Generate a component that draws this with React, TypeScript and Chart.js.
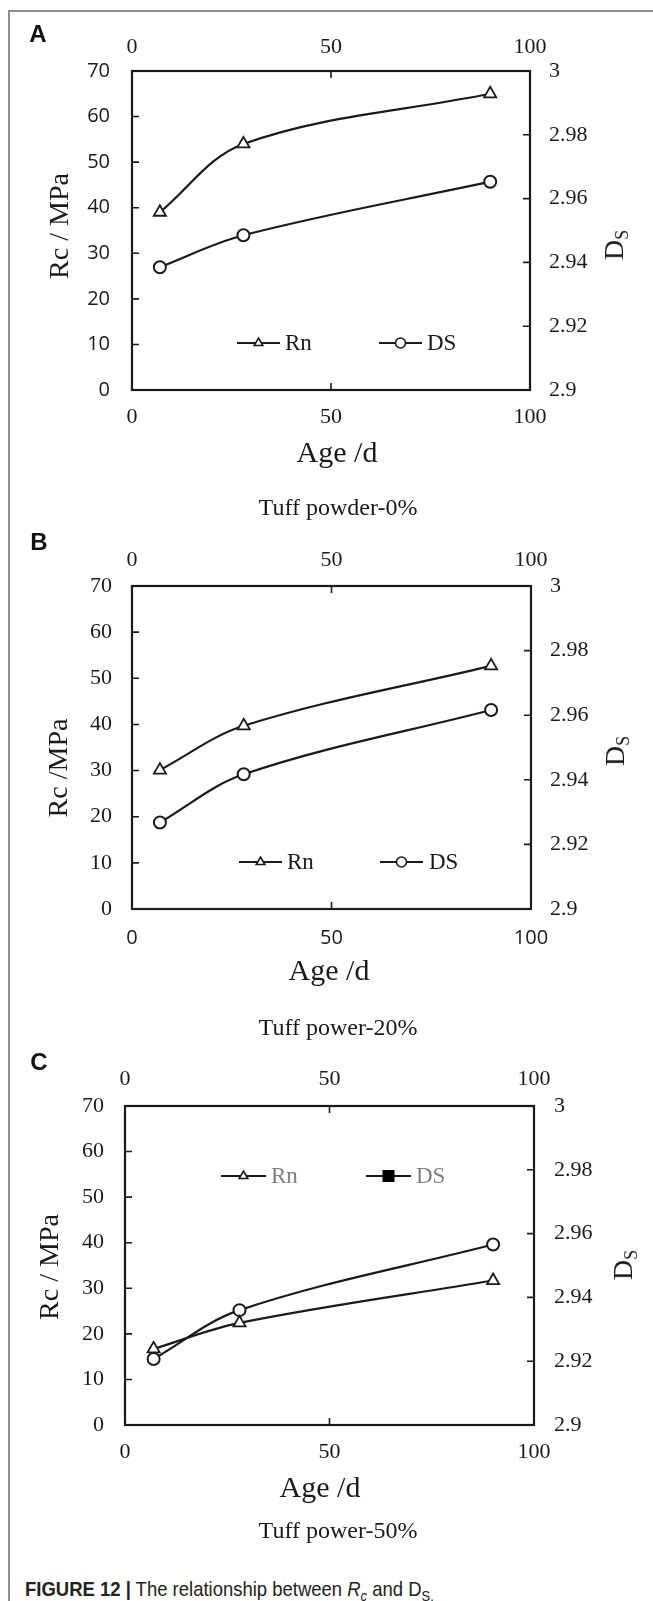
import React, { useEffect, useRef } from "react";
import { Chart, registerables } from "chart.js";

Chart.register(...registerables);

// ---------- data ----------
const ageDays = [7, 28, 90];
const rnA = [39, 54, 65];
const dsA = [2.9385, 2.9485, 2.9653];
const rnB = [30.1, 39.7, 52.7];
const dsB = [2.9268, 2.9417, 2.9616];
const rnC = [16.7, 22.4, 31.7];
const dsC = [2.9207, 2.936, 2.9566];

const ageTicks = [0, 50, 100];
const rcTicks = [0, 10, 20, 30, 40, 50, 60, 70];
const dsTicks = [2.9, 2.92, 2.94, 2.96, 2.98, 3.0];
const dsTickLabels = ["2.9", "2.92", "2.94", "2.96", "2.98", "3"];

const SERIF = "'Liberation Serif', 'Times New Roman', serif";
const SANS = "'Open Sans', 'Liberation Sans', sans-serif";
const INK = "#1a1a1a";

type LegendItem = { x0: number; x1: number; tx: number; marker: string; label: string };

const PANELS = [
  {
    key: "A", T: 71, B: 390, L: 132, R: 530, rn: rnA, ds: dsA,
    leftFont: { family: SANS, size: 20 }, rightFont: { family: SERIF, size: 22 },
    topFont: { family: SERIF, size: 22 }, bottomFont: { family: SERIF, size: 22 },
    padL: 22, padR: 19, padT: 11, padB: 14,
    legendY: 343, legendColor: INK,
    legend: [
      { x0: 237, x1: 280, tx: 285, marker: "triangle", label: "Rn" },
      { x0: 379, x1: 422, tx: 427, marker: "circle", label: "DS" },
    ] as LegendItem[],
    letter: [38, 34], yTitle: ["Rc / MPa", 59, 226], dsTitle: [614, 245],
    xTitle: [337, 452], sub: ["Tuff powder-0%", 338, 507],
  },
  {
    key: "B", T: 586, B: 909, L: 132, R: 531, rn: rnB, ds: dsB,
    leftFont: { family: SERIF, size: 22 }, rightFont: { family: SERIF, size: 22 },
    topFont: { family: SERIF, size: 22 }, bottomFont: { family: SANS, size: 20 },
    padL: 20, padR: 19, padT: 12.5, padB: 17.5,
    legendY: 862, legendColor: INK,
    legend: [
      { x0: 239, x1: 282, tx: 287, marker: "triangle", label: "Rn" },
      { x0: 380, x1: 423, tx: 429, marker: "circle", label: "DS" },
    ] as LegendItem[],
    letter: [39, 542], yTitle: ["Rc /MPa", 58, 768], dsTitle: [615, 751],
    xTitle: [329, 970], sub: ["Tuff power-20%", 338, 1027],
  },
  {
    key: "C", T: 1106, B: 1425, L: 125, R: 534, rn: rnC, ds: dsC,
    leftFont: { family: SERIF, size: 22 }, rightFont: { family: SERIF, size: 22 },
    topFont: { family: SERIF, size: 22 }, bottomFont: { family: SERIF, size: 22 },
    padL: 21, padR: 20, padT: 13.5, padB: 14.3,
    legendY: 1176, legendColor: "#7f7f7f",
    legend: [
      { x0: 221, x1: 266, tx: 271, marker: "triangle", label: "Rn" },
      { x0: 366, x1: 411, tx: 416, marker: "square", label: "DS" },
    ] as LegendItem[],
    letter: [39, 1062], yTitle: ["Rc / MPa", 49, 1267], dsTitle: [623, 1265],
    xTitle: [320, 1487], sub: ["Tuff power-50%", 338, 1530],
  },
];

const TOP_H = 60;
const BOT_H = 60;
const W = 653;

function drawMarker(ctx: CanvasRenderingContext2D, kind: string, x: number, y: number, r: number) {
  ctx.beginPath();
  if (kind === "triangle") {
    const s = Math.sin(Math.PI / 3);
    ctx.moveTo(x, y - r);
    ctx.lineTo(x + r * s, y + r * 0.5);
    ctx.lineTo(x - r * s, y + r * 0.5);
    ctx.closePath();
    ctx.fillStyle = "#fff";
    ctx.fill();
    ctx.stroke();
  } else if (kind === "circle") {
    ctx.arc(x, y, r, 0, Math.PI * 2);
    ctx.fillStyle = "#fff";
    ctx.fill();
    ctx.stroke();
  } else {
    ctx.rect(x - r, y - r, 2 * r, 2 * r);
    ctx.fillStyle = "#000";
    ctx.fill();
  }
}

function Panel({ p }: { p: (typeof PANELS)[number] }) {
  const ref = useRef<HTMLCanvasElement | null>(null);
  const canvasTop = p.T - TOP_H;
  const H = TOP_H + (p.B - p.T) + BOT_H;

  useEffect(() => {
    if (!ref.current) return;
    const framePlugin = {
      id: "frameTicks" + p.key,
      afterDraw(chart: any) {
        const ctx = chart.ctx as CanvasRenderingContext2D;
        const ca = chart.chartArea;
        const tl = 7;
        ctx.save();
        ctx.strokeStyle = INK;
        ctx.lineWidth = 1.6;
        ctx.beginPath();
        const sy = chart.scales.y, sy2 = chart.scales.y2, sx = chart.scales.x, sx2 = chart.scales.x2;
        sy.ticks.forEach((_: any, i: number) => {
          const py = sy.getPixelForTick(i);
          ctx.moveTo(ca.left, py); ctx.lineTo(ca.left + tl, py);
        });
        sy2.ticks.forEach((_: any, i: number) => {
          const py = sy2.getPixelForTick(i);
          ctx.moveTo(ca.right, py); ctx.lineTo(ca.right - tl, py);
        });
        sx.ticks.forEach((_: any, i: number) => {
          const px = sx.getPixelForTick(i);
          ctx.moveTo(px, ca.bottom); ctx.lineTo(px, ca.bottom - tl);
        });
        sx2.ticks.forEach((_: any, i: number) => {
          const px = sx2.getPixelForTick(i);
          ctx.moveTo(px, ca.top); ctx.lineTo(px, ca.top + tl);
        });
        ctx.stroke();
        ctx.lineWidth = 2.2;
        ctx.strokeRect(ca.left, ca.top, ca.right - ca.left, ca.bottom - ca.top);

        // legend
        const ly = p.legendY - canvasTop;
        p.legend.forEach((it) => {
          ctx.strokeStyle = INK;
          ctx.lineWidth = 2;
          ctx.beginPath();
          ctx.moveTo(it.x0, ly); ctx.lineTo(it.x1, ly);
          ctx.stroke();
          ctx.lineWidth = 1.6;
          drawMarker(ctx, it.marker, (it.x0 + it.x1) / 2, ly, it.marker === "square" ? 6 : 5);
          ctx.fillStyle = p.legendColor;
          ctx.font = `23px ${SERIF}`;
          ctx.textBaseline = "middle";
          ctx.textAlign = "left";
          ctx.fillText(it.label, it.tx, ly + 1);
        });
        ctx.restore();
      },
    };

    const fixW = (w: number) => (s: any) => { s.width = w; };
    const fixH = (h: number) => (s: any) => { s.height = h; };
    const setTicks = (vals: number[]) => (s: any) => { s.ticks = vals.map((v) => ({ value: v })); };
    const noGrid = { display: false, drawTicks: false };

    const chart = new Chart(ref.current, {
      type: "line",
      data: {
        datasets: [
          {
            label: "Rn",
            data: ageDays.map((x, i) => ({ x, y: p.rn[i] })),
            xAxisID: "x", yAxisID: "y",
            borderColor: INK, borderWidth: 2.2,
            pointStyle: "triangle", pointRadius: 7,
            pointBackgroundColor: "#fff", pointBorderColor: INK, pointBorderWidth: 1.8,
            tension: 0.35, fill: false,
          },
          {
            label: "DS",
            data: ageDays.map((x, i) => ({ x, y: p.ds[i] })),
            xAxisID: "x", yAxisID: "y2",
            borderColor: INK, borderWidth: 2.2,
            pointStyle: "circle", pointRadius: 6,
            pointBackgroundColor: "#fff", pointBorderColor: INK, pointBorderWidth: 2,
            tension: 0.35, fill: false,
          },
        ],
      },
      options: {
        responsive: false,
        animation: false,
        devicePixelRatio: 1,
        layout: { padding: 0 },
        plugins: { legend: { display: false }, tooltip: { enabled: false } },
        scales: {
          x: {
            type: "linear", position: "bottom", min: 0, max: 100,
            afterBuildTicks: setTicks(ageTicks), afterFit: fixH(BOT_H),
            grid: noGrid, border: { display: false },
            ticks: { font: p.bottomFont, color: INK, padding: p.padB, maxRotation: 0 },
          },
          x2: {
            type: "linear", position: "top", min: 0, max: 100,
            afterBuildTicks: setTicks(ageTicks), afterFit: fixH(TOP_H),
            grid: noGrid, border: { display: false },
            ticks: { font: p.topFont, color: INK, padding: p.padT, maxRotation: 0 },
          },
          y: {
            type: "linear", position: "left", min: 0, max: 70,
            afterBuildTicks: setTicks(rcTicks), afterFit: fixW(p.L),
            grid: noGrid, border: { display: false },
            ticks: { font: p.leftFont, color: INK, padding: p.padL },
          },
          y2: {
            type: "linear", position: "right", min: 2.9, max: 3.0,
            afterBuildTicks: setTicks(dsTicks), afterFit: fixW(W - p.R),
            grid: noGrid, border: { display: false },
            ticks: {
              font: p.rightFont, color: INK, padding: p.padR,
              callback: (_v: any, i: number) => dsTickLabels[i],
            },
          },
        },
      } as any,
      plugins: [framePlugin],
    });
    return () => chart.destroy();
  }, []);

  const txt = (x: number, y: number, size: number, rot = false): React.CSSProperties => ({
    position: "absolute", left: x, top: y,
    transform: `translate(-50%, -50%)${rot ? " rotate(-90deg)" : ""}`,
    fontFamily: SERIF, fontSize: size, lineHeight: 1, whiteSpace: "nowrap", color: INK,
  });

  return (
    <>
      <canvas
        ref={ref}
        width={W}
        height={H}
        style={{ position: "absolute", left: 0, top: canvasTop, width: W, height: H, display: "block" }}
      />
      <div style={{ ...txt(p.letter[0] as number, p.letter[1] as number, 24), fontFamily: "'Liberation Sans', Arial, sans-serif", fontWeight: 700, color: "#111" }}>
        {p.key}
      </div>
      <div style={txt(p.yTitle[1] as number, p.yTitle[2] as number, 28, true)}>{p.yTitle[0]}</div>
      <div style={txt(p.dsTitle[0], p.dsTitle[1], 28, true)}>
        D<span style={{ fontSize: 18, position: "relative", top: 5 }}>S</span>
      </div>
      <div style={txt(p.xTitle[0], p.xTitle[1], 30)}>Age /d</div>
      <div style={txt(p.sub[1] as number, p.sub[2] as number, 24)}>{p.sub[0]}</div>
    </>
  );
}

export default function App() {
  return (
    <div style={{ position: "absolute", left: 0, top: 0, width: W, height: 1601, overflow: "hidden", background: "#fff" }}>
      <div
        style={{
          position: "absolute", left: 8, top: 10, width: 700, height: 1700,
          borderLeft: "2px solid #8f8f8f", borderTop: "2px solid #8f8f8f",
        }}
      />
      {PANELS.map((p) => (
        <Panel key={p.key} p={p} />
      ))}
      <div
        style={{
          position: "absolute", left: 25, top: 1588, transform: "translateY(-50%) scaleX(0.88)",
          transformOrigin: "left center",
          fontFamily: "'Liberation Sans Narrow', 'Arial Narrow', 'Liberation Sans', sans-serif",
          fontSize: 21, lineHeight: 1, whiteSpace: "nowrap", color: "#222",
        }}
      >
        <b>FIGURE 12 |</b> The relationship between <i>R<sub style={{ fontSize: "0.7em", lineHeight: 0 }}>c</sub></i> and D
        <sub style={{ fontSize: "0.7em", lineHeight: 0 }}>S.</sub>
      </div>
    </div>
  );
}
